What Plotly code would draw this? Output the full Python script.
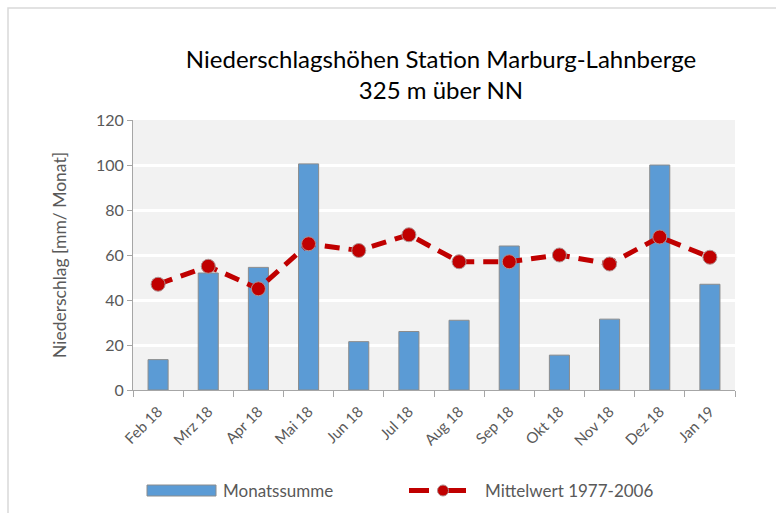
import plotly.graph_objects as go

months = ["Feb 18", "Mrz 18", "Apr 18", "Mai 18", "Jun 18", "Jul 18",
          "Aug 18", "Sep 18", "Okt 18", "Nov 18", "Dez 18", "Jan 19"]
monatssumme = [13.5, 52, 54.5, 100.5, 21.5, 26, 31, 64, 15.5, 31.5, 100, 47]
mittelwert = [47, 55, 45, 65, 62, 69, 57, 57, 60, 56, 68, 59]
y_ticks = [0, 20, 40, 60, 80, 100, 120]
legend_names = ["Monatssumme", "Mittelwert 1977-2006"]

FONT = "Lato, sans-serif"
GRAY = "#595959"
BAR_C = "#5B9BD5"
LINE_C = "#C00000"

L, T, PW, PH = 133, 120, 602, 270


def px(xp):
    return (xp - L) / PW


def py(yp):
    return (T + PH - yp) / PH


fig = go.Figure()
fig.add_trace(go.Bar(
    x=months, y=monatssumme, name=legend_names[0],
    marker=dict(color=BAR_C, line=dict(color="#8C8C8C", width=1)),
))
fig.add_trace(go.Scatter(
    x=months, y=mittelwert, name=legend_names[1], mode="lines+markers",
    line=dict(color=LINE_C, width=5, dash="15px,9px"),
    marker=dict(color=LINE_C, size=14, line=dict(color="#B09090", width=1)),
))

shapes = [
    dict(type="rect", xref="paper", yref="paper", layer="below",
         x0=px(8), x1=px(800), y0=py(540), y1=py(8),
         line=dict(color="#D9D9D9", width=1.5), fillcolor="rgba(0,0,0,0)"),
    # custom legend: bar swatch
    dict(type="rect", xref="paper", yref="paper",
         x0=px(147), x1=px(216), y0=py(496), y1=py(485),
         fillcolor=BAR_C, line=dict(color="#8C8C8C", width=1)),
    # custom legend: line swatch
    dict(type="line", xref="paper", yref="paper",
         x0=px(409), x1=px(429), y0=py(490.5), y1=py(490.5),
         line=dict(color=LINE_C, width=5)),
    dict(type="line", xref="paper", yref="paper",
         x0=px(444), x1=px(466), y0=py(490.5), y1=py(490.5),
         line=dict(color=LINE_C, width=5)),
    dict(type="circle", xref="paper", yref="paper",
         x0=px(437.5), x1=px(448.5), y0=py(496), y1=py(485),
         fillcolor=LINE_C, line=dict(color="#B09090", width=1)),
]

annotations = [
    dict(text=legend_names[0], xref="paper", yref="paper", x=px(221), y=py(490.5),
         xanchor="left", yanchor="middle", showarrow=False,
         font=dict(family=FONT, size=17, color=GRAY)),
    dict(text=legend_names[1], xref="paper", yref="paper", x=px(483), y=py(490.5),
         xanchor="left", yanchor="middle", showarrow=False,
         font=dict(family=FONT, size=17, color=GRAY)),
]

fig.update_layout(
    width=776, height=513,
    margin=dict(l=L, r=776 - L - PW, t=T, b=513 - T - PH),
    paper_bgcolor="white", plot_bgcolor="#F2F2F2",
    font=dict(family=FONT, color=GRAY, size=15),
    bargap=0.6,
    showlegend=False,
    title=dict(
        text="Niederschlagshöhen Station Marburg-Lahnberge<br>325 m über NN",
        x=441 / 776, xanchor="center", xref="container",
        y=1 - 68 / 513, yanchor="middle", yref="container",
        font=dict(family=FONT, size=24, color="#000000"),
    ),
    xaxis=dict(
        type="category", range=[-0.5, 11.5], tickangle=-45, tickson="boundaries",
        ticks="outside", ticklen=6, tickcolor="#A6A6A6",
        showline=True, linecolor="#A6A6A6", linewidth=1,
        showgrid=False, tickfont=dict(size=15, color=GRAY),
        ticklabelstandoff=6,
    ),
    yaxis=dict(
        range=[0, 120], tickvals=y_ticks, ticks="outside", ticklen=5,
        tickcolor="#A6A6A6", showline=True, linecolor="#A6A6A6", linewidth=1,
        gridcolor="white", gridwidth=2.5, zeroline=False,
        tickfont=dict(size=16, color=GRAY),
        title=dict(text="Niederschlag [mm/ Monat]", font=dict(size=17.5, color=GRAY), standoff=24),
    ),
    shapes=shapes,
    annotations=annotations,
)

fig.write_html("out.html", config={"displayModeBar": False},
               post_script="document.body.style.margin='0';")
